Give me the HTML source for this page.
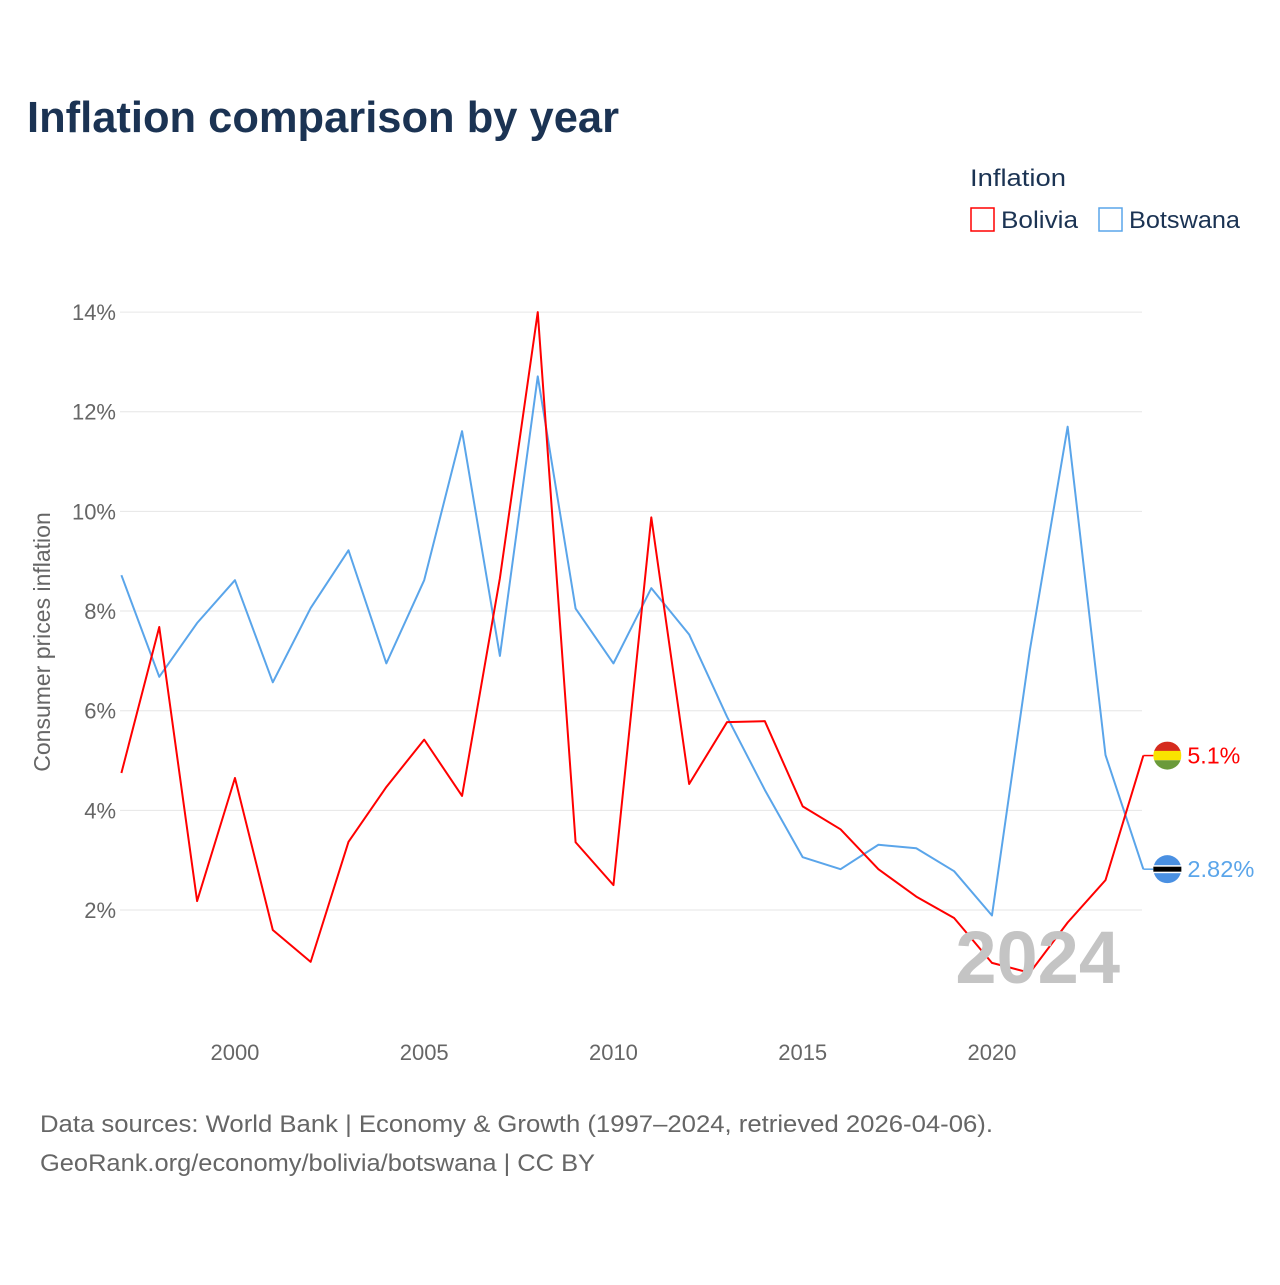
<!DOCTYPE html>
<html><head><meta charset="utf-8">
<style>
body{margin:0;background:#fff;font-family:"Liberation Sans",sans-serif;}
svg text{font-family:"Liberation Sans",sans-serif;}
</style></head>
<body>
<svg id="chart" width="1280" height="1280" viewBox="0 0 1280 1280">
<text x="27" y="132" font-size="44" font-weight="bold" fill="#1b3353" textLength="592" lengthAdjust="spacingAndGlyphs">Inflation comparison by year</text>
<text x="970" y="186" font-size="24" fill="#1b3353" textLength="96" lengthAdjust="spacingAndGlyphs">Inflation</text>
<g>
<rect x="971" y="208" width="23" height="23" fill="none" stroke="#ff0000" stroke-width="1.5"/>
<text x="1001" y="228" font-size="24" fill="#1b3353" textLength="77" lengthAdjust="spacingAndGlyphs">Bolivia</text></g>
<g>
<rect x="1099" y="208" width="23" height="23" fill="none" stroke="#5aa5ea" stroke-width="1.5"/>
<text x="1129" y="228" font-size="24" fill="#1b3353" textLength="111" lengthAdjust="spacingAndGlyphs">Botswana</text></g>
<g id="grid"></g>
<g id="series"></g>
<text x="1120" y="983" font-size="74" font-weight="bold" fill="#c4c4c4" text-anchor="end">2024</text>
<text transform="translate(50,642) rotate(-90)" font-size="23" fill="#666" text-anchor="middle">Consumer prices inflation</text>
<text x="40" y="1132" font-size="24" fill="#666" textLength="953" lengthAdjust="spacingAndGlyphs">Data sources: World Bank | Economy &amp; Growth (1997–2024, retrieved 2026-04-06).</text>
<text x="40" y="1171" font-size="24" fill="#666" textLength="555" lengthAdjust="spacingAndGlyphs">GeoRank.org/economy/bolivia/botswana | CC BY</text>
</svg>
<script>
const years=[1997,1998,1999,2000,2001,2002,2003,2004,2005,2006,2007,2008,2009,2010,2011,2012,2013,2014,2015,2016,2017,2018,2019,2020,2021,2022,2023,2024];
const bolivia=[4.75,7.68,2.18,4.65,1.6,0.96,3.37,4.47,5.42,4.29,8.66,14.0,3.36,2.5,9.88,4.53,5.77,5.79,4.08,3.62,2.82,2.27,1.84,0.94,0.74,1.75,2.6,5.1];
const botswana=[8.72,6.68,7.76,8.62,6.57,8.06,9.22,6.95,8.62,11.61,7.1,12.71,8.05,6.95,8.46,7.53,5.88,4.41,3.06,2.82,3.31,3.24,2.78,1.89,7.21,11.7,5.11,2.82];
const yTicks=[2,4,6,8,10,12,14];
const xTicks=[2000,2005,2010,2015,2020];
const NS="http://www.w3.org/2000/svg";
const X=y=>121.4+(y-1997)*37.85;
const Y=v=>1009.7-v*49.83;
const grid=document.getElementById('grid'),ser=document.getElementById('series');
function mk(tag,attrs,parent){const e=document.createElementNS(NS,tag);for(const k in attrs)e.setAttribute(k,attrs[k]);parent.appendChild(e);return e;}
yTicks.forEach(t=>{
 const l=mk('line',{x1:120,x2:1142,y1:Y(t),y2:Y(t),stroke:'#e6e6e6','stroke-width':1},grid);
 
 
 const tx=mk('text',{x:116,y:Y(t)+8,'font-size':22,fill:'#666','text-anchor':'end'},grid);
 tx.textContent=t+'%';
 
 
});
xTicks.forEach(t=>{
 const tx=mk('text',{x:X(t),y:1060,'font-size':22,fill:'#666','text-anchor':'middle'},grid);
 tx.textContent=t;
 
 
});
function line(vals,color,name){
 const p=mk('polyline',{points:vals.map((v,i)=>X(years[i])+','+Y(v)).join(' '),fill:'none',stroke:color,'stroke-width':2,'stroke-linejoin':'round'},ser);
 
 
}
line(botswana,'#5aa5ea','botswana-line');
line(bolivia,'#ff0000','bolivia-line');
const lb=bolivia[bolivia.length-1], lw=botswana[botswana.length-1];
const xe=X(2024);
let g=mk('g',{},ser);


mk('line',{x1:xe,x2:xe+10,y1:Y(lb),y2:Y(lb),stroke:'#ff0000','stroke-width':1.5},g);
mk('clipPath',{id:'cb'},g).appendChild(document.createElementNS(NS,'circle'));
const cb=document.querySelector('#cb circle');cb.setAttribute('cx',xe+24);cb.setAttribute('cy',Y(lb));cb.setAttribute('r',14);
mk('rect',{x:xe+10,y:Y(lb)-14,width:28,height:10,fill:'#d52b1e','clip-path':'url(#cb)'},g);
mk('rect',{x:xe+10,y:Y(lb)-4.7,width:28,height:9.4,fill:'#f9e300','clip-path':'url(#cb)'},g);
mk('rect',{x:xe+10,y:Y(lb)+4.7,width:28,height:10,fill:'#6a9a3a','clip-path':'url(#cb)'},g);
let t=mk('text',{x:xe+44,y:Y(lb)+8,'font-size':23,fill:'#ff0000',textLength:53,lengthAdjust:'spacingAndGlyphs'},g);t.textContent=lb+'%';
g=mk('g',{},ser);


mk('line',{x1:xe,x2:xe+10,y1:Y(lw),y2:Y(lw),stroke:'#5aa5ea','stroke-width':1.5},g);
mk('circle',{cx:xe+24,cy:Y(lw),r:14,fill:'#4a90e2'},g);
mk('rect',{x:xe+10,y:Y(lw)-4,width:28,height:8,fill:'#fff'},g);
mk('rect',{x:xe+10,y:Y(lw)-2.5,width:28,height:5,fill:'#000'},g);
t=mk('text',{x:xe+44,y:Y(lw)+8,'font-size':23,fill:'#5aa5ea',textLength:67,lengthAdjust:'spacingAndGlyphs'},g);t.textContent=lw+'%';
</script>
</body></html>
